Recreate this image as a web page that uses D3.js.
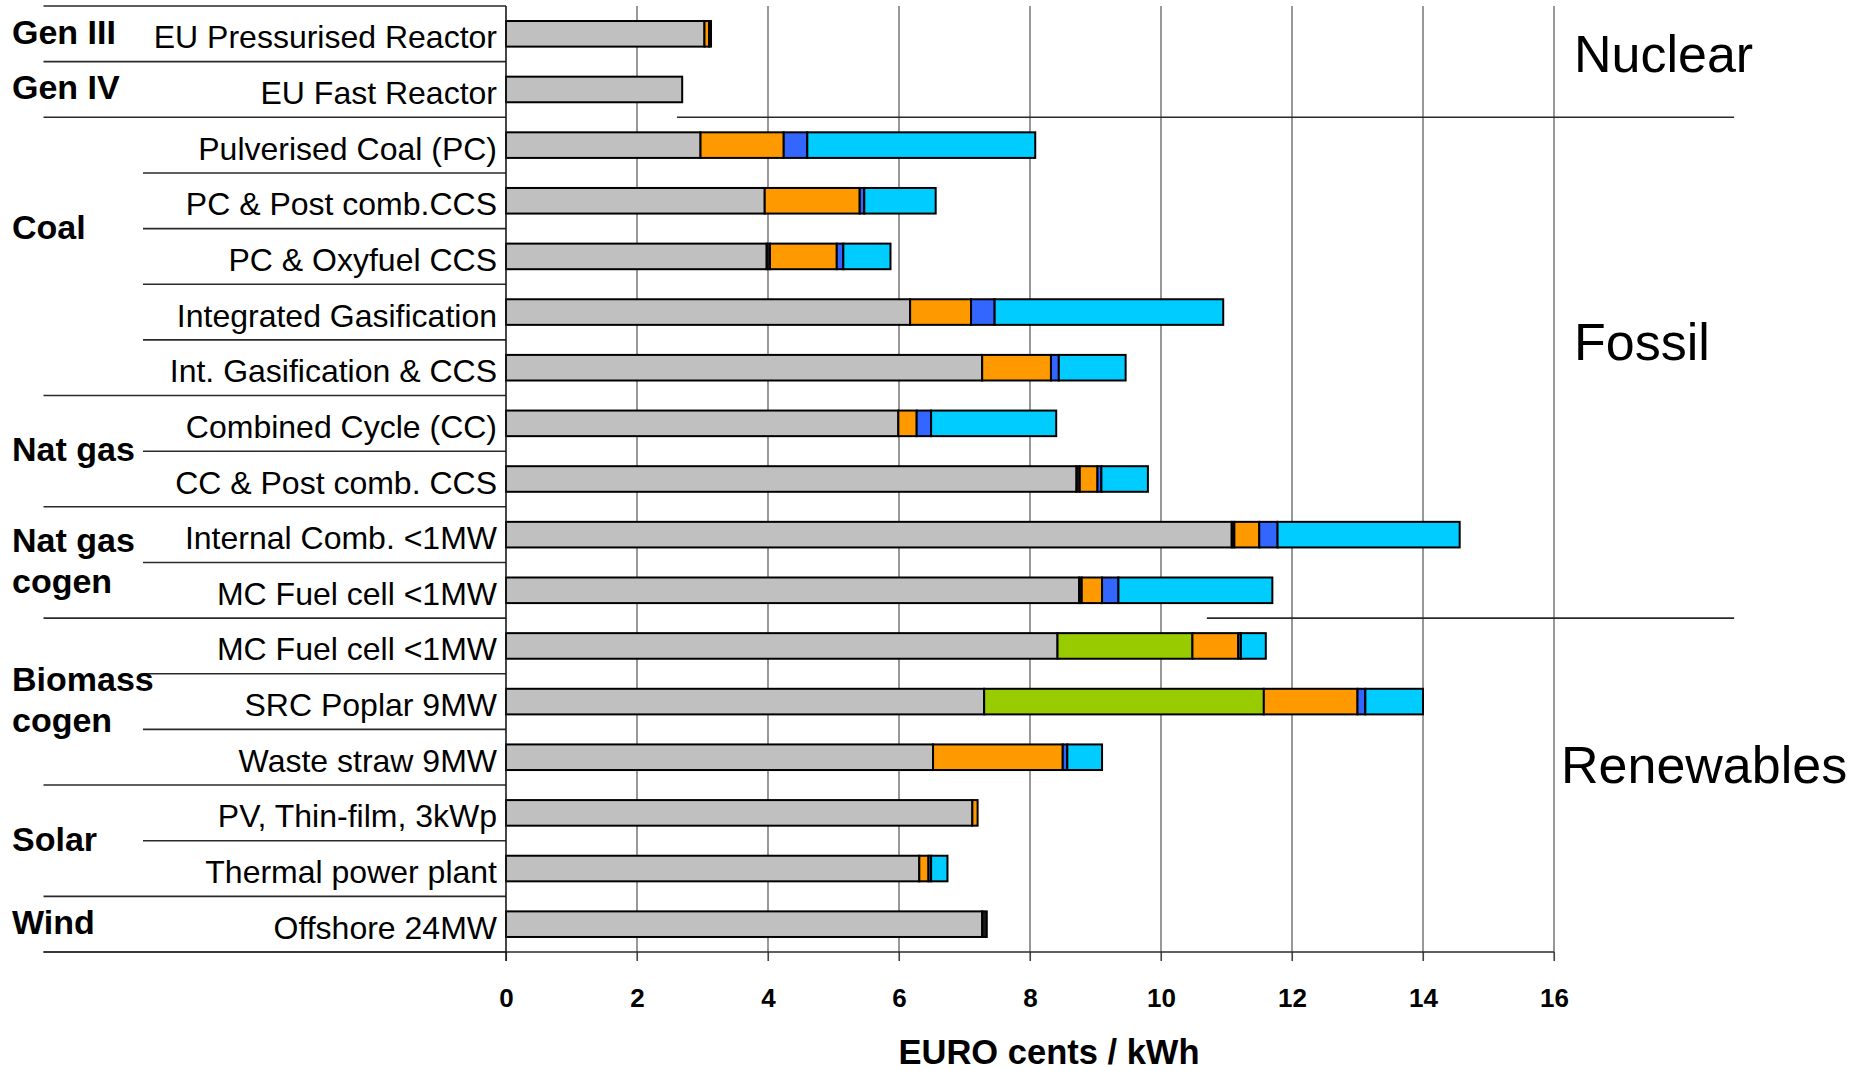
<!DOCTYPE html>
<html><head><meta charset="utf-8">
<script src="https://cdn.jsdelivr.net/npm/d3@7"></script>
<style>
html,body{margin:0;padding:0;background:#fff;}
svg{display:block;font-family:"Liberation Sans",Arial,Helvetica,sans-serif;}
</style>
</head><body>
<svg id="chart" width="1860" height="1071"></svg>
<script>
// ---------- DATA ----------
const technologies = ["EU Pressurised Reactor","EU Fast Reactor","Pulverised Coal (PC)","PC & Post comb.CCS",
  "PC & Oxyfuel CCS","Integrated Gasification","Int. Gasification & CCS","Combined Cycle (CC)",
  "CC & Post comb. CCS","Internal Comb. <1MW","MC Fuel cell <1MW","MC Fuel cell <1MW",
  "SRC Poplar 9MW","Waste straw 9MW","PV, Thin-film, 3kWp","Thermal power plant","Offshore 24MW"];
const capitalCost  = [3.03,2.69,2.97,3.95,3.98,6.17,7.27,5.99,8.71,11.08,8.75,8.42,7.30,6.52,7.12,6.31,7.27];
const otherCost    = [0,0,0,0,0.05,0,0,0,0.05,0.04,0.04,0,0,0,0,0,0.07];
const biomassFuel  = [0,0,0,0,0,0,0,0,0,0,0,2.06,4.27,0,0,0,0];
const omCost       = [0.07,0,1.27,1.45,1.02,0.93,1.05,0.28,0.27,0.38,0.31,0.70,1.43,1.98,0.08,0.14,0];
const co2Cost      = [0.03,0,0.36,0.07,0.10,0.36,0.12,0.22,0.06,0.28,0.25,0.04,0.12,0.07,0,0.04,0];
const fuelCost     = [0,0,3.48,1.09,0.72,3.49,1.02,1.91,0.71,2.78,2.35,0.38,0.88,0.53,0,0.25,0];
const seriesKeys   = ["capital","other","biomass","om","co2","fuel"];
const tickValues   = [0,2,4,6,8,10,12,14,16];
const axisTitle    = "EURO cents / kWh";
const groupLabels  = [["Gen III"],["Gen IV"],["Coal"],["Nat gas"],["Nat gas","cogen"],["Biomass","cogen"],["Solar"],["Wind"]];
const groupFirst   = [0,1,2,7,9,11,14,16];
const groupLast    = [0,1,6,8,10,13,15,16];
const sectorNames  = ["Nuclear","Fossil","Renewables"];
const sectorBreakAfter = [1,10];

// ---------- STYLE / LAYOUT ----------
const colors = {capital:"#C0C0C0", other:"#1a1a1a", biomass:"#99CC00", om:"#FF9900", co2:"#3366FF", fuel:"#00CCFF"};
const groupLabelShift = [0,0,-0.5,0,0,0,0,0];   // in rows
const sectorRowPos = [0.85,6.02,13.62];         // in rows (cap centre)
const sectorXoff = [20,20,7];
const sectorLineFrom = [2.61,10.7];              // in x units
const sectorLineTo = 18.75;

const svg = d3.select("#chart");
svg.append("rect").attr("width",1860).attr("height",1071).attr("fill","#fff");

const x = d3.scaleLinear().domain([0,16]).range([506,1554]);
const yTop = 6, yBottom = 952;
const y = d3.scaleBand().domain(d3.range(technologies.length)).range([yTop,yBottom]).paddingInner(0.54).paddingOuter(0.27);
const step = y.step();
const rowY = r => yTop + step*r;

const rows = technologies.map((t,i)=>({i, capital:capitalCost[i], other:otherCost[i], biomass:biomassFuel[i],
  om:omCost[i], co2:co2Cost[i], fuel:fuelCost[i]}));
const stacked = d3.stack().keys(seriesKeys)(rows);

// gridlines
svg.append("g").selectAll("line").data(tickValues.filter(v=>v>0)).join("line")
  .attr("x1",d=>x(d)).attr("x2",d=>x(d)).attr("y1",yTop).attr("y2",yBottom+9)
  .attr("stroke","#444").attr("stroke-width",1.1);

// sector separators
svg.append("g").selectAll("line").data(sectorBreakAfter).join("line")
  .attr("x1",(d,i)=>x(sectorLineFrom[i])).attr("x2",x(sectorLineTo))
  .attr("y1",d=>rowY(d+1)).attr("y2",d=>rowY(d+1))
  .attr("stroke","#2a2a2a").attr("stroke-width",1.6);

// left separators
const groupBounds = new Set([0]);
groupLast.forEach(g=>groupBounds.add(g+1));
const sepG = svg.append("g");
d3.range(technologies.length+1).forEach(b=>{
  const major = groupBounds.has(b);
  sepG.append("line").attr("x1",major?43.5:143).attr("x2",x(0))
    .attr("y1",rowY(b)).attr("y2",rowY(b))
    .attr("stroke","#2a2a2a").attr("stroke-width",1.6);
});

// bars
svg.append("g").selectAll("g").data(stacked).join("g")
  .attr("fill",d=>colors[d.key])
  .selectAll("rect").data(d=>d.filter(s=>s[1]-s[0]>0)).join("rect")
  .attr("x",d=>x(d[0])).attr("width",d=>x(d[1])-x(d[0]))
  .attr("y",d=>y(d.data.i)).attr("height",y.bandwidth())
  .attr("stroke","#000").attr("stroke-width",2);

// x axis
const axis = d3.axisBottom(x).tickValues(tickValues).tickSize(9).tickSizeOuter(0).tickPadding(28);
const ax = svg.append("g").attr("transform",`translate(0,${yBottom})`).call(axis);
ax.select(".domain").remove();
ax.selectAll(".tick line").attr("stroke","#444").attr("stroke-width",1.1);
ax.selectAll(".tick text").attr("font-size",26).attr("font-weight","bold")
  .attr("font-family","'Liberation Sans',Arial,sans-serif").attr("fill","#000");
svg.append("line").attr("x1",43.5).attr("x2",x(16)).attr("y1",yBottom).attr("y2",yBottom)
  .attr("stroke","#2a2a2a").attr("stroke-width",1.6);
svg.append("line").attr("x1",x(0)).attr("x2",x(0)).attr("y1",yTop).attr("y2",yBottom+9)
  .attr("stroke","#1a1a1a").attr("stroke-width",1.6);

svg.append("text").attr("x",1049).attr("y",1064).attr("text-anchor","middle")
  .attr("font-size",34.5).attr("font-weight","bold").text(axisTitle);

// technology labels
svg.append("g").selectAll("text").data(technologies).join("text")
  .attr("x",497).attr("y",(d,i)=>rowY(i+0.5)+14.5).attr("text-anchor","end")
  .attr("font-size",32).attr("fill","#000").text(d=>d);

// group labels
groupLabels.forEach((lines,g)=>{
  const c = rowY((groupFirst[g]+groupLast[g]+1)/2 + groupLabelShift[g]);
  const lh = 41.5;
  lines.forEach((ln,k)=>{
    const cy = c + (k-(lines.length-1)/2)*lh;
    svg.append("text").attr("x",12).attr("y",cy+10).attr("font-size",34).attr("font-weight","bold")
      .attr("fill","#000").text(ln);
  });
});

// sector labels
sectorNames.forEach((s,i)=>{
  svg.append("text").attr("x",x(16)+sectorXoff[i]).attr("y",rowY(sectorRowPos[i])+19)
    .attr("font-size",52).attr("fill","#000").text(s);
});
</script>
</body></html>
